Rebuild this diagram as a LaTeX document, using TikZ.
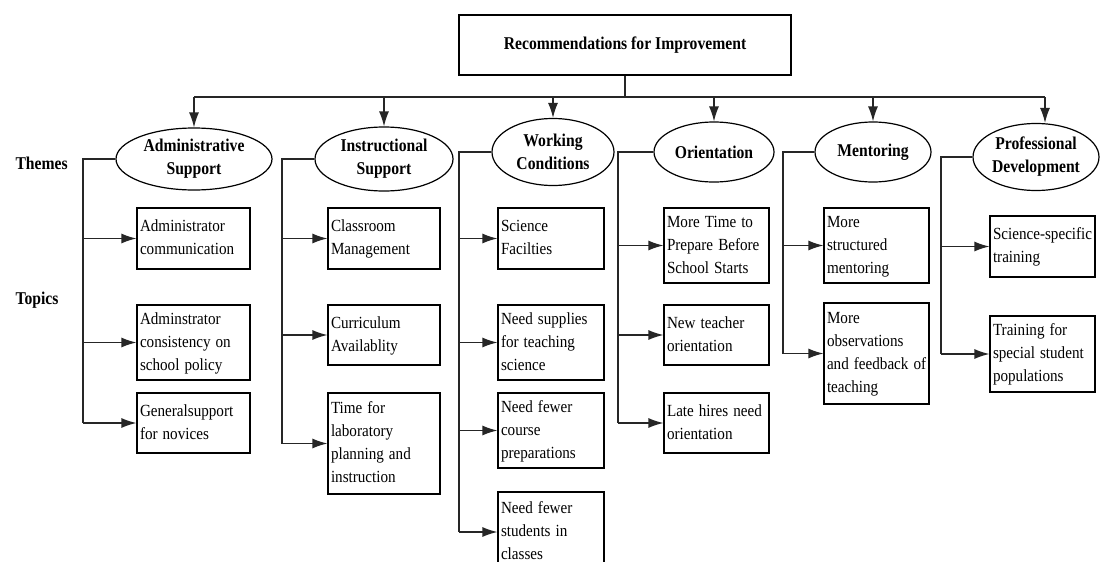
\documentclass[tikz,border=0pt]{standalone}
\usepackage{graphicx}
\usepackage{fontspec}
\setmainfont{Liberation Serif}
\newfontfamily\labelfont{Liberation Serif}[FakeStretch=0.87]
\usetikzlibrary{arrows.meta,shapes.geometric}
% stack of slightly narrowed lines that never rewraps
\newcommand\tlines[1]{\scalebox{0.89}[1]{\begin{tabular}{@{}l@{}}#1\end{tabular}}}

\begin{document}
\begin{tikzpicture}[x=1pt,y=-1pt,
  every node/.style={font=\fontsize{17}{23}\selectfont},
  wire/.style={line width=1.3pt, black!85},
  arr/.style={wire, -{Latex[length=15pt,width=10pt]}},
  headbox/.style={draw, line width=1.2pt, minimum width=332pt, minimum height=60pt,
    font=\labelfont\bfseries\fontsize{18}{23}\selectfont},
  theme/.style 2 args={ellipse, draw, line width=1.2pt, minimum width=#1pt,
    minimum height=#2pt, inner sep=0pt, align=center,
    font=\labelfont\bfseries\fontsize{18}{23}\selectfont},
  rowlabel/.style={anchor=west, font=\labelfont\bfseries\fontsize{18}{23}\selectfont},
  topic/.style n args={3}{draw, line width=1.2pt, minimum width=#1pt,
    minimum height=#2pt, text width=#3pt, inner xsep=3pt, inner ysep=0pt, align=left}
]
\useasboundingbox (0,0) rectangle (1100,562);
\clip (0,0) rectangle (1100,562);
\fill[white] (0,0) rectangle (1100,562);

% root and distribution bus
\node[headbox] (rec) at (625,45) {Recommendations for Improvement};
\coordinate (bus) at (625,97);
\coordinate (b1) at (194,97);
\coordinate (b2) at (384,97);
\coordinate (b3) at (553,97);
\coordinate (b4) at (714,97);
\coordinate (b5) at (873,97);
\coordinate (b6) at (1045,97);
\draw[wire] (rec.south) -- (bus);
\draw[wire] (b1) -- (b6);

% row labels
\node[rowlabel] (themes) at (12,163) {Themes};
\node[rowlabel] (topics) at (12,300) {Topics};

% themes
\node[theme={156}{62}] (t1) at (194,159) {Administrative\\Support};
\node[theme={138}{64}] (t2) at (384,159) {Instructional\\Support};
\node[theme={122}{67}] (t3) at (553,152) {Working\\Conditions};
\node[theme={120}{60}] (t4) at (714,152) {Orientation};
\node[theme={116}{60}] (t5) at (873,152) {Mentoring};
\node[theme={126}{67}] (t6) at (1036,157) {Professional\\Development};

\draw[arr] (b1) -- (t1.north);
\draw[arr] (b2) -- (t2.north);
\draw[arr] (b3) -- (t3.north);
\draw[arr] (b4) -- (t4.north);
\draw[arr] (b5) -- (t5.north);
\draw[arr] (b6) -- (b6 |- t6.north);

% topics
\node[topic={113}{61}{107}] (g11) at (193.5,238.5) {\tlines{Administrator\\communication}};
\node[topic={113}{75}{107}] (g12) at (193.5,342.5) {\tlines{Adminstrator\\consistency on\\school policy}};
\node[topic={113}{60}{107}] (g13) at (193.5,423) {\tlines{Generalsupport\\for novices}};

\node[topic={112}{61}{106}] (g21) at (384,238.5) {\tlines{Classroom\\Management}};
\node[topic={112}{60}{106}] (g22) at (384,335) {\tlines{Curriculum\\Availablity}};
\node[topic={112}{101}{106}] (g23) at (384,443.5) {\tlines{Time for\\laboratory\\planning and\\instruction}};

\node[topic={106}{61}{100}] (g31) at (551,238.5) {\tlines{Science\\Facilties}};
\node[topic={106}{75}{100}] (g32) at (551,342.5) {\tlines{Need supplies\\for teaching\\science}};
\node[topic={106}{75}{100}] (g33) at (551,430.5) {\tlines{Need fewer\\course\\preparations}};
\node[topic={106}{80}{100}] (g34) at (551,532) {\tlines{Need fewer\\students in\\classes}};

\node[topic={105}{75}{99}] (g41) at (716.5,245.5) {\tlines{More Time to\\Prepare Before\\School Starts}};
\node[topic={105}{60}{99}] (g42) at (716.5,335) {\tlines{New teacher\\orientation}};
\node[topic={105}{60}{99}] (g43) at (716.5,423) {\tlines{Late hires need\\orientation}};

\node[topic={105}{75}{99}] (g51) at (876.5,245.5) {\tlines{More\\structured\\mentoring}};
\node[topic={105}{101}{99}] (g52) at (876.5,353.5) {\tlines{More\\observations\\and feedback of\\teaching}};

\node[topic={105}{61}{99}] (g61) at (1042.5,246.5) {\tlines{Science-specific\\training}};
\node[topic={105}{76}{99}] (g62) at (1042.5,354) {\tlines{Training for\\special student\\populations}};

% spines from each theme down its column
\coordinate (s1) at (83,0);
\coordinate (s2) at (282,0);
\coordinate (s3) at (459,0);
\coordinate (s4) at (618,0);
\coordinate (s5) at (783,0);
\coordinate (s6) at (941,0);

\draw[wire] (t1.west) -| (s1 |- g13.west);
\draw[arr] (s1 |- g11.west) -- (g11.west);
\draw[arr] (s1 |- g12.west) -- (g12.west);
\draw[arr] (s1 |- g13.west) -- (g13.west);

\draw[wire] (t2.west) -| (s2 |- g23.west);
\draw[arr] (s2 |- g21.west) -- (g21.west);
\draw[arr] (s2 |- g22.west) -- (g22.west);
\draw[arr] (s2 |- g23.west) -- (g23.west);

\draw[wire] (t3.west) -| (s3 |- g34.west);
\draw[arr] (s3 |- g31.west) -- (g31.west);
\draw[arr] (s3 |- g32.west) -- (g32.west);
\draw[arr] (s3 |- g33.west) -- (g33.west);
\draw[arr] (s3 |- g34.west) -- (g34.west);

\draw[wire] (t4.west) -| (s4 |- g43.west);
\draw[arr] (s4 |- g41.west) -- (g41.west);
\draw[arr] (s4 |- g42.west) -- (g42.west);
\draw[arr] (s4 |- g43.west) -- (g43.west);

\draw[wire] (t5.west) -| (s5 |- g52.west);
\draw[arr] (s5 |- g51.west) -- (g51.west);
\draw[arr] (s5 |- g52.west) -- (g52.west);

\draw[wire] (t6.west) -| (s6 |- g62.west);
\draw[arr] (s6 |- g61.west) -- (g61.west);
\draw[arr] (s6 |- g62.west) -- (g62.west);
\end{tikzpicture}
\end{document}
